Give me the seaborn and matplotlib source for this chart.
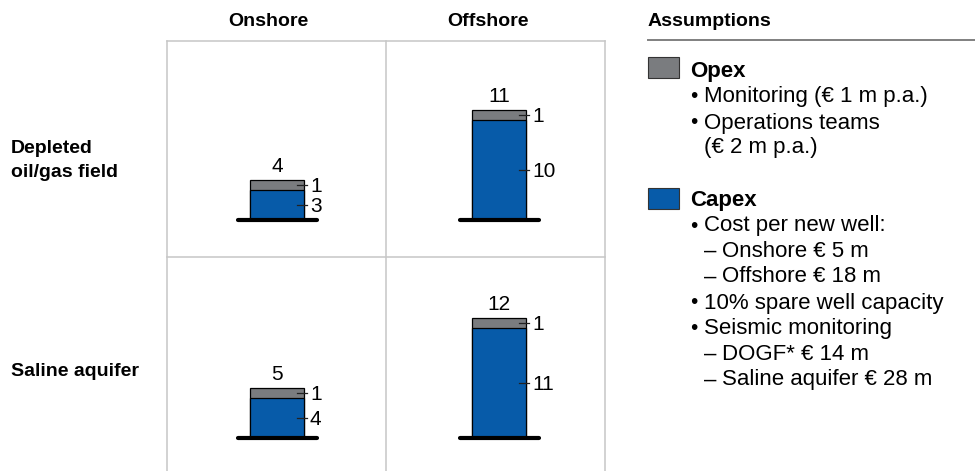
import matplotlib
matplotlib.use("Agg")
import matplotlib.pyplot as plt
from matplotlib.lines import Line2D
from matplotlib.patches import Rectangle
import seaborn as sns
import pandas as pd

# ---- data -------------------------------------------------------------
storage_types = ["Depleted\noil/gas field", "Saline aquifer"]
locations = ["Onshore", "Offshore"]
capex = [[3, 10], [4, 11]]      # rows: storage type, cols: location
opex = [[1, 1], [1, 1]]
totals = [[4, 11], [5, 12]]

OPEX_COLOR = "#7a7c7f"
CAPEX_COLOR = "#075ba9"
GRID_COLOR = "#c6c6c6"

plt.rcParams["font.family"] = ["Liberation Sans", "DejaVu Sans"]

W, H = 975, 471
DPI = 100
fig = plt.figure(figsize=(W / DPI, H / DPI), dpi=DPI)


def fx(px):
    return px / W


def fy(py):
    return 1 - py / H


# ---- layout of the 2x2 grid (pixels) ---------------------------------
col_edges = [167, 386, 605]
row_edges = [41, 257, 471]
baseline_px = [220, 438]
bar_center_px = [277, 499]
bar_w_px = 54
px_per_unit = 10
VALUE_FS = 15

for r, storage in enumerate(storage_types):
    for c, loc in enumerate(locations):
        ax = fig.add_axes([
            fx(col_edges[c]), fy(row_edges[r + 1]),
            (col_edges[c + 1] - col_edges[c]) / W,
            (row_edges[r + 1] - row_edges[r]) / H,
        ])
        df = pd.DataFrame({
            "location": [loc],
            "total": [totals[r][c]],
            "capex": [capex[r][c]],
        })
        # total bar (opex on top) then capex drawn over it
        sns.barplot(data=df, x="location", y="total", ax=ax, color=OPEX_COLOR,
                    width=1, saturation=1, edgecolor="black", linewidth=0.9)
        sns.barplot(data=df, x="location", y="capex", ax=ax, color=CAPEX_COLOR,
                    width=1, saturation=1, edgecolor="black", linewidth=0.9)

        ax.set_xlim(-(bar_center_px[c] - col_edges[c]) / bar_w_px,
                    (col_edges[c + 1] - bar_center_px[c]) / bar_w_px)
        ax.set_ylim(-(row_edges[r + 1] - baseline_px[r]) / px_per_unit,
                    (baseline_px[r] - row_edges[r]) / px_per_unit)
        ax.set_axis_off()
        ax.patch.set_alpha(0)

        # thick base line under the bar
        ax.plot([-0.5 - 12 / bar_w_px, 0.5 + 13 / bar_w_px], [0, 0],
                color="black", lw=3, solid_capstyle="round", zorder=5)

        # total value above the bar
        ax.annotate(f"{totals[r][c]}", (0, totals[r][c]),
                    xytext=(0, 5.4), textcoords="offset points",
                    ha="center", va="baseline", fontsize=VALUE_FS)

        # segment values with leader ticks
        segs = [(capex[r][c] / 2, capex[r][c]),
                (capex[r][c] + opex[r][c] / 2, opex[r][c])]
        for ymid, val in segs:
            ax.plot([0.5 - 7 / bar_w_px, 0.5 + 3 / bar_w_px], [ymid, ymid],
                    color="#222222", lw=0.9, zorder=6)
            ax.annotate(f"{val}", (0.5, ymid), xytext=(4.3, -5.3),
                        textcoords="offset points", ha="left", va="baseline",
                        fontsize=VALUE_FS)

# ---- grid lines --------------------------------------------------------
for x in col_edges:
    fig.add_artist(Line2D([fx(x), fx(x)], [fy(row_edges[0]), fy(H)],
                          color=GRID_COLOR, lw=1.1))
for y in row_edges[:2]:
    fig.add_artist(Line2D([fx(col_edges[0]), fx(col_edges[-1])], [fy(y), fy(y)],
                          color=GRID_COLOR, lw=1.1))

# ---- column and row headers ------------------------------------------
header_x = [268, 488]
for x, loc in zip(header_x, locations):
    fig.text(fx(x), fy(26), loc, ha="center", va="baseline",
             fontsize=14, fontweight="bold")

fig.text(fx(11), fy(153.3), "Depleted", ha="left", va="baseline",
         fontsize=14, fontweight="bold")
fig.text(fx(11), fy(176.7), "oil/gas field", ha="left", va="baseline",
         fontsize=14, fontweight="bold")
fig.text(fx(11), fy(376), "Saline aquifer", ha="left", va="baseline",
         fontsize=14, fontweight="bold")

# ---- assumptions panel ------------------------------------------------
fig.text(fx(648), fy(26), "Assumptions", ha="left", va="baseline",
         fontsize=14, fontweight="bold")
fig.add_artist(Line2D([fx(648), fx(975)], [fy(40), fy(40)],
                      color="#808080", lw=1.4))

fig.add_artist(Rectangle((fx(648), fy(78)), 31 / W, 21 / H,
                         transform=fig.transFigure, facecolor=OPEX_COLOR,
                         edgecolor="#333333", lw=0.8))
fig.add_artist(Rectangle((fx(648), fy(209)), 31 / W, 21 / H,
                         transform=fig.transFigure, facecolor=CAPEX_COLOR,
                         edgecolor="#333333", lw=0.8))

fig.text(fx(690), fy(77), "Opex", ha="left", va="baseline",
         fontsize=16, fontweight="bold")
fig.text(fx(690), fy(205.7), "Capex", ha="left", va="baseline",
         fontsize=16, fontweight="bold")

bullets = [
    (102.3, "Monitoring (€ 1 m p.a.)"),
    (128.5, "Operations teams"),
    (231.5, "Cost per new well:"),
    (308.5, "10% spare well capacity"),
    (334.0, "Seismic monitoring"),
]
for y, s in bullets:
    fig.text(fx(690), fy(y), "•", ha="left", va="baseline", fontsize=15)
    fig.text(fx(704), fy(y), s, ha="left", va="baseline", fontsize=16)

fig.text(fx(704), fy(153.5), "(€ 2 m p.a.)", ha="left", va="baseline",
         fontsize=16)

dashes = [
    (257.0, "Onshore € 5 m"),
    (282.5, "Offshore € 18 m"),
    (360.0, "DOGF* € 14 m"),
    (385.5, "Saline aquifer € 28 m"),
]
for y, s in dashes:
    fig.text(fx(704), fy(y), "–", ha="left", va="baseline", fontsize=16)
    fig.text(fx(722), fy(y), s, ha="left", va="baseline", fontsize=16)

fig.savefig("out.png", dpi=DPI, facecolor="white")
